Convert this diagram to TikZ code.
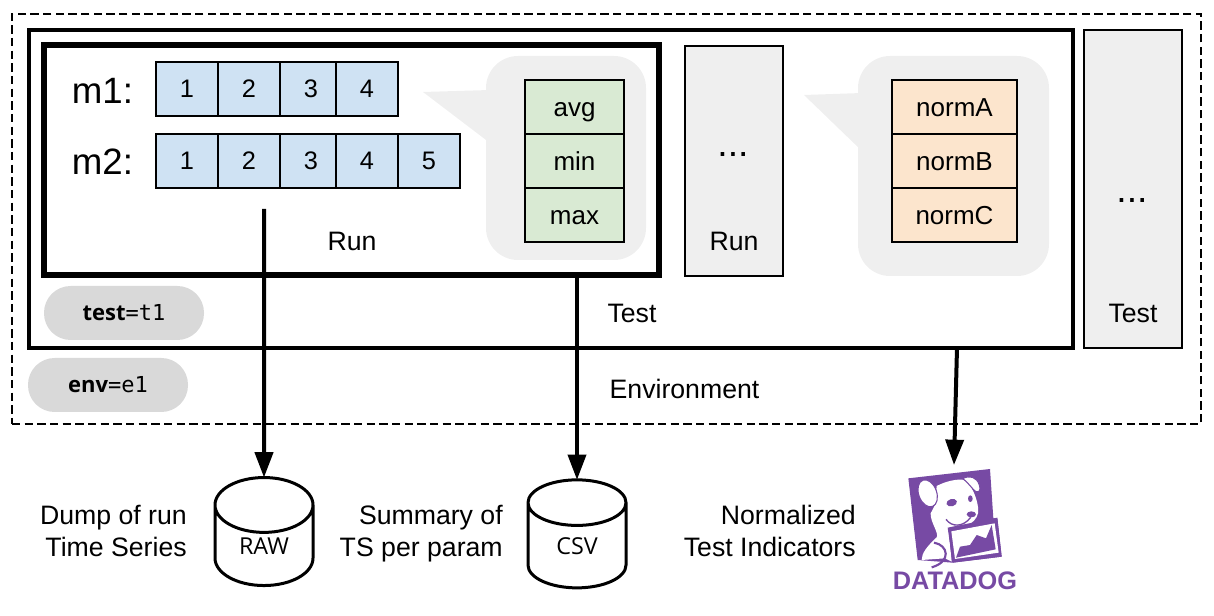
\documentclass[tikz,border=0pt]{standalone}
\usepackage{fontspec}
\setmainfont{Liberation Sans}
\newfontfamily\pillfont{Open Sans}
\newfontfamily\pillmono{DejaVu Sans Mono}
\usetikzlibrary{shapes,arrows.meta,positioning}
\definecolor{cellblue}{HTML}{CFE2F3}
\definecolor{cellgreen}{HTML}{D9EAD3}
\definecolor{cellorange}{HTML}{FCE5CD}
\definecolor{softgrey}{HTML}{EFEFEF}
\definecolor{pillgrey}{HTML}{D9D9D9}
\definecolor{ddpurple}{HTML}{774AA4}
\tikzset{
  numcell/.style={draw=black,line width=1.2pt,fill=cellblue,minimum height=40.5pt,inner sep=0pt,outer sep=0pt,font=\fontsize{19}{20}\selectfont},
  statcell/.style={draw=black,line width=1.2pt,fill=cellgreen,minimum width=74.25pt,minimum height=40.5pt,inner sep=0pt,outer sep=0pt,text height=18.5pt,text depth=4pt,font=\fontsize{19.5}{22}\selectfont},
  normcell/.style={statcell,fill=cellorange,minimum width=93.75pt},
  greybox/.style={draw=black,line width=1.1pt,fill=softgrey,minimum width=73.5pt,inner sep=0pt,outer sep=0pt},
  bubble/.style={fill=softgrey,rounded corners=24pt,inner sep=0pt,outer sep=0pt,minimum height=153pt},
  pill/.style={fill=pillgrey,rounded corners=20pt,minimum width=120pt,minimum height=40.5pt,inner sep=0pt,outer sep=0pt,font=\fontsize{16.5}{20}\selectfont},
  plain/.style={inner sep=0pt,font=\fontsize{20}{24}\selectfont},
  store/.style={draw=black,line width=2.25pt,cylinder,shape border rotate=90,aspect=1.1,minimum width=73.5pt,minimum height=81pt,inner sep=0pt,outer sep=0pt,font=\pillfont\fontsize{17.5}{18}\selectfont},
  link/.style={line width=3pt,-{Triangle[width=13.5pt,length=19pt]}}
}
\begin{document}
\begin{tikzpicture}[x=0.75pt,y=0.75pt,yscale=-1,xscale=1]
\useasboundingbox (0,0) rectangle (1214,616);

% Environment
\node[draw=black,line width=1.5pt,dash pattern=on 6.25pt off 3.25pt,minimum width=891.75pt,minimum height=307.5pt,inner sep=0pt] (envbox) at (606.5,219) {};
% Test
\node[draw=black,line width=3pt,minimum width=783pt,minimum height=238.5pt,inner sep=0pt,outer sep=0pt] (testbox) at (550.5,189) {};
\node[greybox,minimum height=238.5pt] (testgrey) at (1133,189) {};
% Run
\node[draw=black,line width=4.5pt,minimum width=461.6pt,minimum height=172.5pt,inner sep=0pt,outer sep=0pt] (runbox) at (351.75,160.5) {};
\node[greybox,minimum height=172.5pt] (rungrey) at (734,161) {};

% Bubbles
\fill[softgrey] (423,92) -- (490,90) -- (490,143) -- cycle;
\node[bubble,minimum width=120pt] (bubbleA) at (566,158) {};
\fill[softgrey] (804,95) -- (862,93) -- (862,151) -- cycle;
\node[bubble,minimum width=143.25pt,minimum height=165pt] (bubbleB) at (953.5,166) {};

% Metrics
\node[plain,font=\fontsize{27.5}{30}\selectfont] (mone) at (102.5,91) {m1:};
\node[plain,font=\fontsize{27.5}{30}\selectfont] (mtwo) at (102.5,162) {m2:};
\node[numcell,minimum width=46.5pt] (aone) at (187,89) {1};
\node[numcell,minimum width=46.5pt] (atwo) at (249,89) {2};
\node[numcell,minimum width=42pt] (athree) at (308,89) {\kern4.5pt 3};
\node[numcell,minimum width=46.5pt] (afour) at (367,89) {4};
\node[numcell,minimum width=46.5pt] (bone) at (187,161) {1};
\node[numcell,minimum width=46.5pt] (btwo) at (249,161) {2};
\node[numcell,minimum width=42pt] (bthree) at (308,161) {\kern4.5pt 3};
\node[numcell,minimum width=46.5pt] (bfour) at (367,161) {4};
\node[numcell,minimum width=46.5pt] (bfive) at (429,161) {5};

% Stats
\node[statcell] (avg) at (574.5,107) {avg};
\node[statcell] (min) at (574.5,161) {min};
\node[statcell] (max) at (574.5,215) {max};
\node[normcell] (norma) at (954.5,107) {normA};
\node[normcell] (normb) at (954.5,161) {normB};
\node[normcell] (normc) at (954.5,215) {normC};

% Text Node
\node[plain] (runtxt) at (352,241) {Run};
\node[plain,anchor=base,font=\fontsize{28}{30}\selectfont] (rundots) at (733,157) {...};
\node[plain] (runtxtb) at (734,241) {Run};
\node[plain,anchor=base,font=\fontsize{28}{30}\selectfont] (testdots) at (1132,203) {...};
\node[plain] (testtxtb) at (1133,313) {Test};
\node[plain] (testtxt) at (632,313) {Test};
\node[plain] (envtxt) at (684.5,389) {Environment};

% Pills
\node[pill] (testpill) at (124,313) {{\pillfont\bfseries test}{\pillmono =t1}};
\node[pill] (envpill) at (108,385) {{\pillfont\bfseries env}{\pillmono =e1}};

% Stores
\node[store] (raw) at (264,546) {RAW};
\node[store] (csv) at (577,546) {CSV};
\node[plain,align=right,anchor=east] (rawtxt) at (187,531) {Dump of run\\Time Series};
\node[plain,align=right,anchor=east] (csvtxt) at (503,534) {Summary of\\TS per param};
\node[plain,align=right,anchor=east] (ddtxt) at (856,531) {Normalized\\Test Indicators};

% Logo
\begin{scope}[shift={(880,450)},x=0.25pt,y=0.25pt]
\fill[ddpurple] (85,85) -- (330,57) -- (340,205) -- (352,205) -- (365,320) -- (218,338) -- (113,330) -- cycle;
\fill[white] (125,330) .. controls (125,310) and (140,290) .. (170,262) .. controls (178,250) and (150,215) .. (152,190) -- (165,165) -- (170,108) .. controls (195,95) and (230,85) .. (258,90) .. controls (285,120) and (298,170) .. (294,190) .. controls (285,225) and (245,235) .. (212,235) -- (205,235) -- (215,335) -- (195,325) -- cycle;
\fill[white,draw=ddpurple,line width=0.8pt,rotate around={-20:(143,130)}] (143,130) ellipse (27 and 42);
\fill[white,draw=ddpurple,line width=0.8pt] (248,86) .. controls (268,75) and (290,80) .. (298,105) .. controls (303,120) and (298,128) .. (288,125) .. controls (278,120) and (268,100) .. (248,86) -- cycle;
\fill[ddpurple,rotate around={-15:(215,158)}] (215,158) ellipse (16 and 11);
\fill[ddpurple] (271,146) ellipse (7 and 10);
\fill[ddpurple] (274,193) ellipse (14 and 9);
\draw[ddpurple,line width=1pt] (198,208) .. controls (215,232) and (250,232) .. (272,202);
\draw[ddpurple,line width=1.6pt] (162,278) .. controls (205,285) and (215,335) .. (155,352);
\fill[ddpurple] (203,233) -- (352,203) -- (365,320) -- (218,338) -- cycle;
\fill[white] (214,244) -- (344,220) -- (356,308) -- (225,327) -- cycle;
\fill[ddpurple] (228,323) -- (240,290) -- (270,285) -- (290,255) -- (318,265) -- (335,225) -- (347,298) -- cycle;
\end{scope}
\node[inner sep=0pt,text=ddpurple,font=\bfseries\fontsize{19}{22}\selectfont] (ddname) at (955,581) {DATADOG};
\coordinate (ddtop) at (954,465);

% Straight Lines
\coordinate (rawstart) at (264,209);
\draw[link] (rawstart) -- (raw.north);
\draw[link] (runbox.south -| csv.north) -- (csv.north);
\draw[link] (testbox.south -| 957,0) -- (ddtop);

\end{tikzpicture}
\end{document}
